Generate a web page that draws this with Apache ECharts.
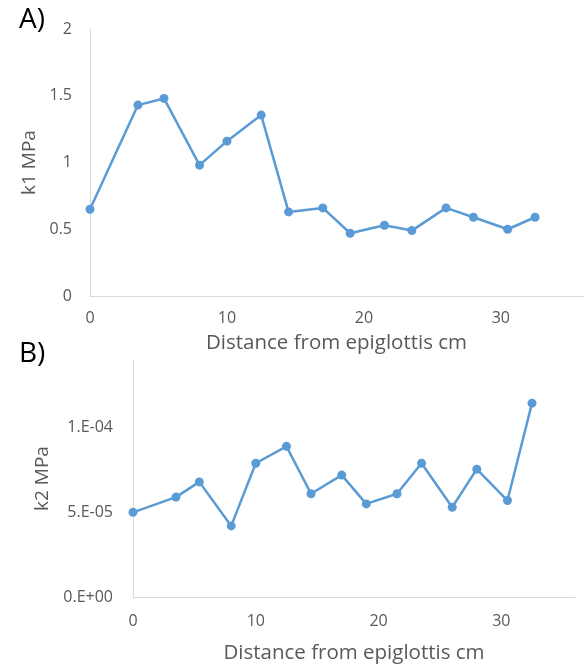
<!DOCTYPE html>
<html>
<head>
<meta charset="utf-8">
<script src="https://cdn.jsdelivr.net/npm/echarts@6/dist/echarts.min.js"></script>
<style>
  html, body { margin: 0; padding: 0; background: #fff; }
  #chart { width: 585px; height: 665px; }
</style>
</head>
<body>
<div id="chart"></div>
<script>
// 距会厌距离 (cm)
const distance = [0, 3.5, 5.4, 8, 10, 12.5, 14.5, 17, 19, 21.5, 23.5, 26, 28, 30.5, 32.5];
// k1 (MPa)
const k1 = [0.65, 1.43, 1.48, 0.98, 1.16, 1.355, 0.63, 0.66, 0.47, 0.53, 0.49, 0.66, 0.59, 0.50, 0.59];
// k2 (MPa)
const k2 = [5.0e-5, 5.9e-5, 6.8e-5, 4.2e-5, 7.9e-5, 8.9e-5, 6.1e-5, 7.2e-5, 5.5e-5, 6.1e-5, 7.9e-5, 5.3e-5, 7.55e-5, 5.7e-5, 1.145e-4];

const xName = 'Distance from epiglottis cm';
const blue = '#5B9BD5';
const textColor = '#595959';
const axisColor = '#D9D9D9';
const font = '"Open Sans", sans-serif';

// Excel 风格 "0.E+00" 格式
function sci(v) {
    if (Math.abs(v) < 1e-12) return '0.E+00';
    const parts = v.toExponential(0).split('e');
    const exp = parseInt(parts[1], 10);
    const sign = exp < 0 ? '-' : '+';
    return parts[0] + '.E' + sign + String(Math.abs(exp)).padStart(2, '0');
}

function xAxisOf(gridIndex, nameGap, labelMargin) {
    return {
        type: 'value',
        gridIndex: gridIndex,
        min: 0,
        max: 36,
        interval: 10,
        name: xName,
        nameLocation: 'middle',
        nameGap: nameGap,
        nameTextStyle: { color: textColor, fontSize: 20.5, fontFamily: font },
        axisLine: { show: true, lineStyle: { color: axisColor, width: 1 } },
        axisTick: { show: false },
        splitLine: { show: false },
        axisLabel: { color: textColor, fontSize: 16, fontFamily: font, margin: labelMargin, showMaxLabel: false }
    };
}

const chart = echarts.init(document.getElementById('chart'));

chart.setOption({
    backgroundColor: '#fff',
    animation: false,
    title: [
        { text: 'A)', left: 14, top: 1, textStyle: { color: '#000', fontSize: 28, fontWeight: 'normal', fontFamily: font } },
        { text: 'B)', left: 14, top: 335, textStyle: { color: '#000', fontSize: 28, fontWeight: 'normal', fontFamily: font } }
    ],
    grid: [
        { left: 90, top: 29, right: 2, bottom: 369 },
        { left: 133, top: 360, right: 10, bottom: 68 }
    ],
    xAxis: [xAxisOf(0, 37, 14), xAxisOf(1, 46, 16)],
    yAxis: [
        {
            type: 'value',
            gridIndex: 0,
            min: 0,
            max: 2,
            interval: 0.5,
            name: 'k1 MPa',
            nameLocation: 'middle',
            nameGap: 50,
            nameTextStyle: { color: textColor, fontSize: 19, fontFamily: font },
            axisLine: { show: true, lineStyle: { color: axisColor, width: 1 } },
            axisTick: { show: false },
            splitLine: { show: false },
            axisLabel: { color: textColor, fontSize: 16, fontFamily: font, margin: 18 }
        },
        {
            type: 'value',
            gridIndex: 1,
            min: 0,
            max: 1.4e-4,
            interval: 5e-5,
            name: 'k2 MPa',
            nameLocation: 'middle',
            nameGap: 80,
            nameTextStyle: { color: textColor, fontSize: 19, fontFamily: font },
            axisLine: { show: true, lineStyle: { color: axisColor, width: 1 } },
            axisTick: { show: false },
            splitLine: { show: false },
            axisLabel: { color: textColor, fontSize: 16, fontFamily: font, margin: 20, showMaxLabel: false, formatter: sci }
        }
    ],
    series: [
        {
            type: 'line',
            xAxisIndex: 0,
            yAxisIndex: 0,
            data: distance.map((d, i) => [d, k1[i]]),
            symbol: 'circle',
            symbolSize: 9,
            lineStyle: { color: blue, width: 2.5 },
            itemStyle: { color: blue }
        },
        {
            type: 'line',
            xAxisIndex: 1,
            yAxisIndex: 1,
            data: distance.map((d, i) => [d, k2[i]]),
            symbol: 'circle',
            symbolSize: 9,
            lineStyle: { color: blue, width: 2.5 },
            itemStyle: { color: blue }
        }
    ]
});
</script>
</body>
</html>
